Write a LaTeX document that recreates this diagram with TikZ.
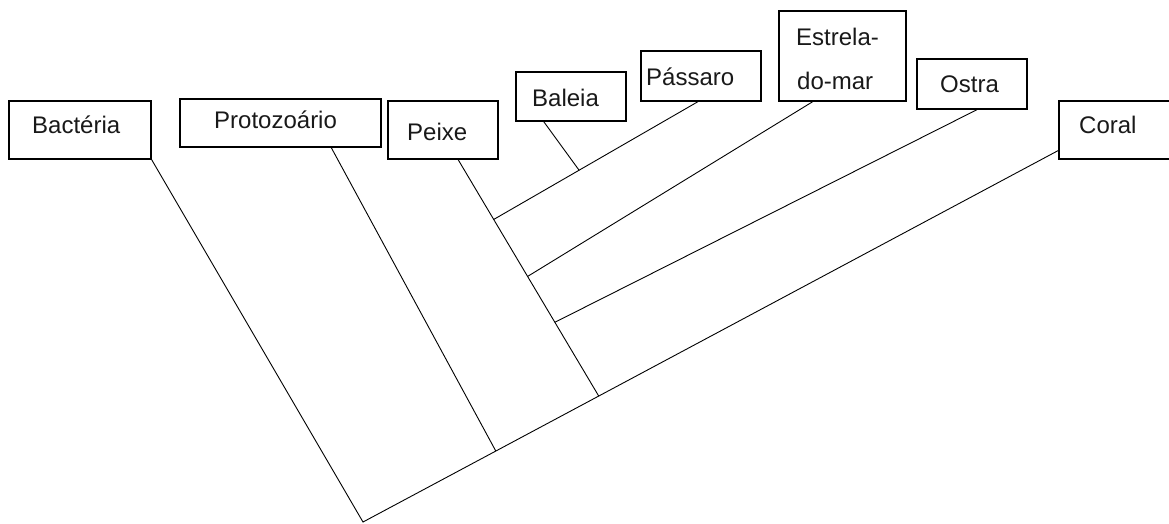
\documentclass[tikz,border=0pt]{standalone}
\usepackage{fontspec}
\setmainfont{Liberation Sans}
\usetikzlibrary{calc}
\begin{document}
\begin{tikzpicture}[x=1pt,y=-1pt,
  box/.style={draw=black,line width=1.3pt,rectangle,inner sep=0pt},
  lbl/.style={inner sep=0pt,font=\fontsize{24}{28}\selectfont,text=black!90},
  branch/.style={draw=black,line width=0.9pt}]
\useasboundingbox (0,0) rectangle (1169,523);
\clip (0,0) rectangle (1169,523);
% boxes
\node[box,minimum width=142pt,minimum height=58pt] (bac) at (80,130) {};
\node[box,minimum width=201pt,minimum height=48pt] (pro) at (280.5,123) {};
\node[box,minimum width=110pt,minimum height=58pt] (pei) at (443,130) {};
\node[box,minimum width=110pt,minimum height=49pt] (bal) at (571,96.5) {};
\node[box,minimum width=120pt,minimum height=50pt] (pas) at (701,76) {};
\node[box,minimum width=127pt,minimum height=90pt] (est) at (842.5,56) {};
\node[box,minimum width=110pt,minimum height=50pt] (ost) at (972,84) {};
\node[box,minimum width=121pt,minimum height=58pt] (cor) at (1119.5,130) {};
% labels
\node[lbl,anchor=base west] (tbac) at (32,133) {Bactéria};
\node[lbl,anchor=base west] (tpro) at (214,128) {Protozoário};
\node[lbl,anchor=base west] (tpei) at (407,140) {Peixe};
\node[lbl,anchor=base west] (tbal) at (532,106.5) {Baleia};
\node[lbl,anchor=base west] (tpas) at (646,85) {Pássaro};
\node[lbl,anchor=base west] (test1) at (796,45) {Estrela-};
\node[lbl,anchor=base west] (test2) at (797,89) {do-mar};
\node[lbl,anchor=base west] (tost) at (940,92.5) {Ostra};
\node[lbl,anchor=base west] (tcor) at (1079,133) {Coral};
% attachment points
\coordinate (root) at (363,522);
\coordinate (aPro) at ($(pro.south west)!0.751!(pro.south east)$);
\coordinate (aPei) at ($(pei.south west)!0.636!(pei.south east)$);
\coordinate (aBal) at ($(bal.south west)!0.255!(bal.south east)$);
\coordinate (aPas) at ($(pas.south west)!0.475!(pas.south east)$);
\coordinate (aEst) at ($(est.south west)!0.268!(est.south east)$);
\coordinate (aOst) at ($(ost.south west)!0.545!(ost.south east)$);
\coordinate (aCor) at ($(cor.north west)!0.845!(cor.south west)$);
% junctions
\coordinate (jPro) at ($(root)!0.191!(aCor)$);
\coordinate (jPei) at ($(root)!0.339!(aCor)$);
\coordinate (jBP) at ($(aPei)!0.253!(jPei)$);
\coordinate (jEst) at ($(aPei)!0.494!(jPei)$);
\coordinate (jOst) at ($(aPei)!0.688!(jPei)$);
\coordinate (jBal) at ($(aPas)!0.582!(jBP)$);
% branches
\draw[branch] (bac.south east) -- (root) -- (aCor);
\draw[branch] (aPro) -- (jPro);
\draw[branch] (aPei) -- (jPei);
\draw[branch] (aPas) -- (jBP);
\draw[branch] (aBal) -- (jBal);
\draw[branch] (aEst) -- (jEst);
\draw[branch] (aOst) -- (jOst);
\end{tikzpicture}
\end{document}
